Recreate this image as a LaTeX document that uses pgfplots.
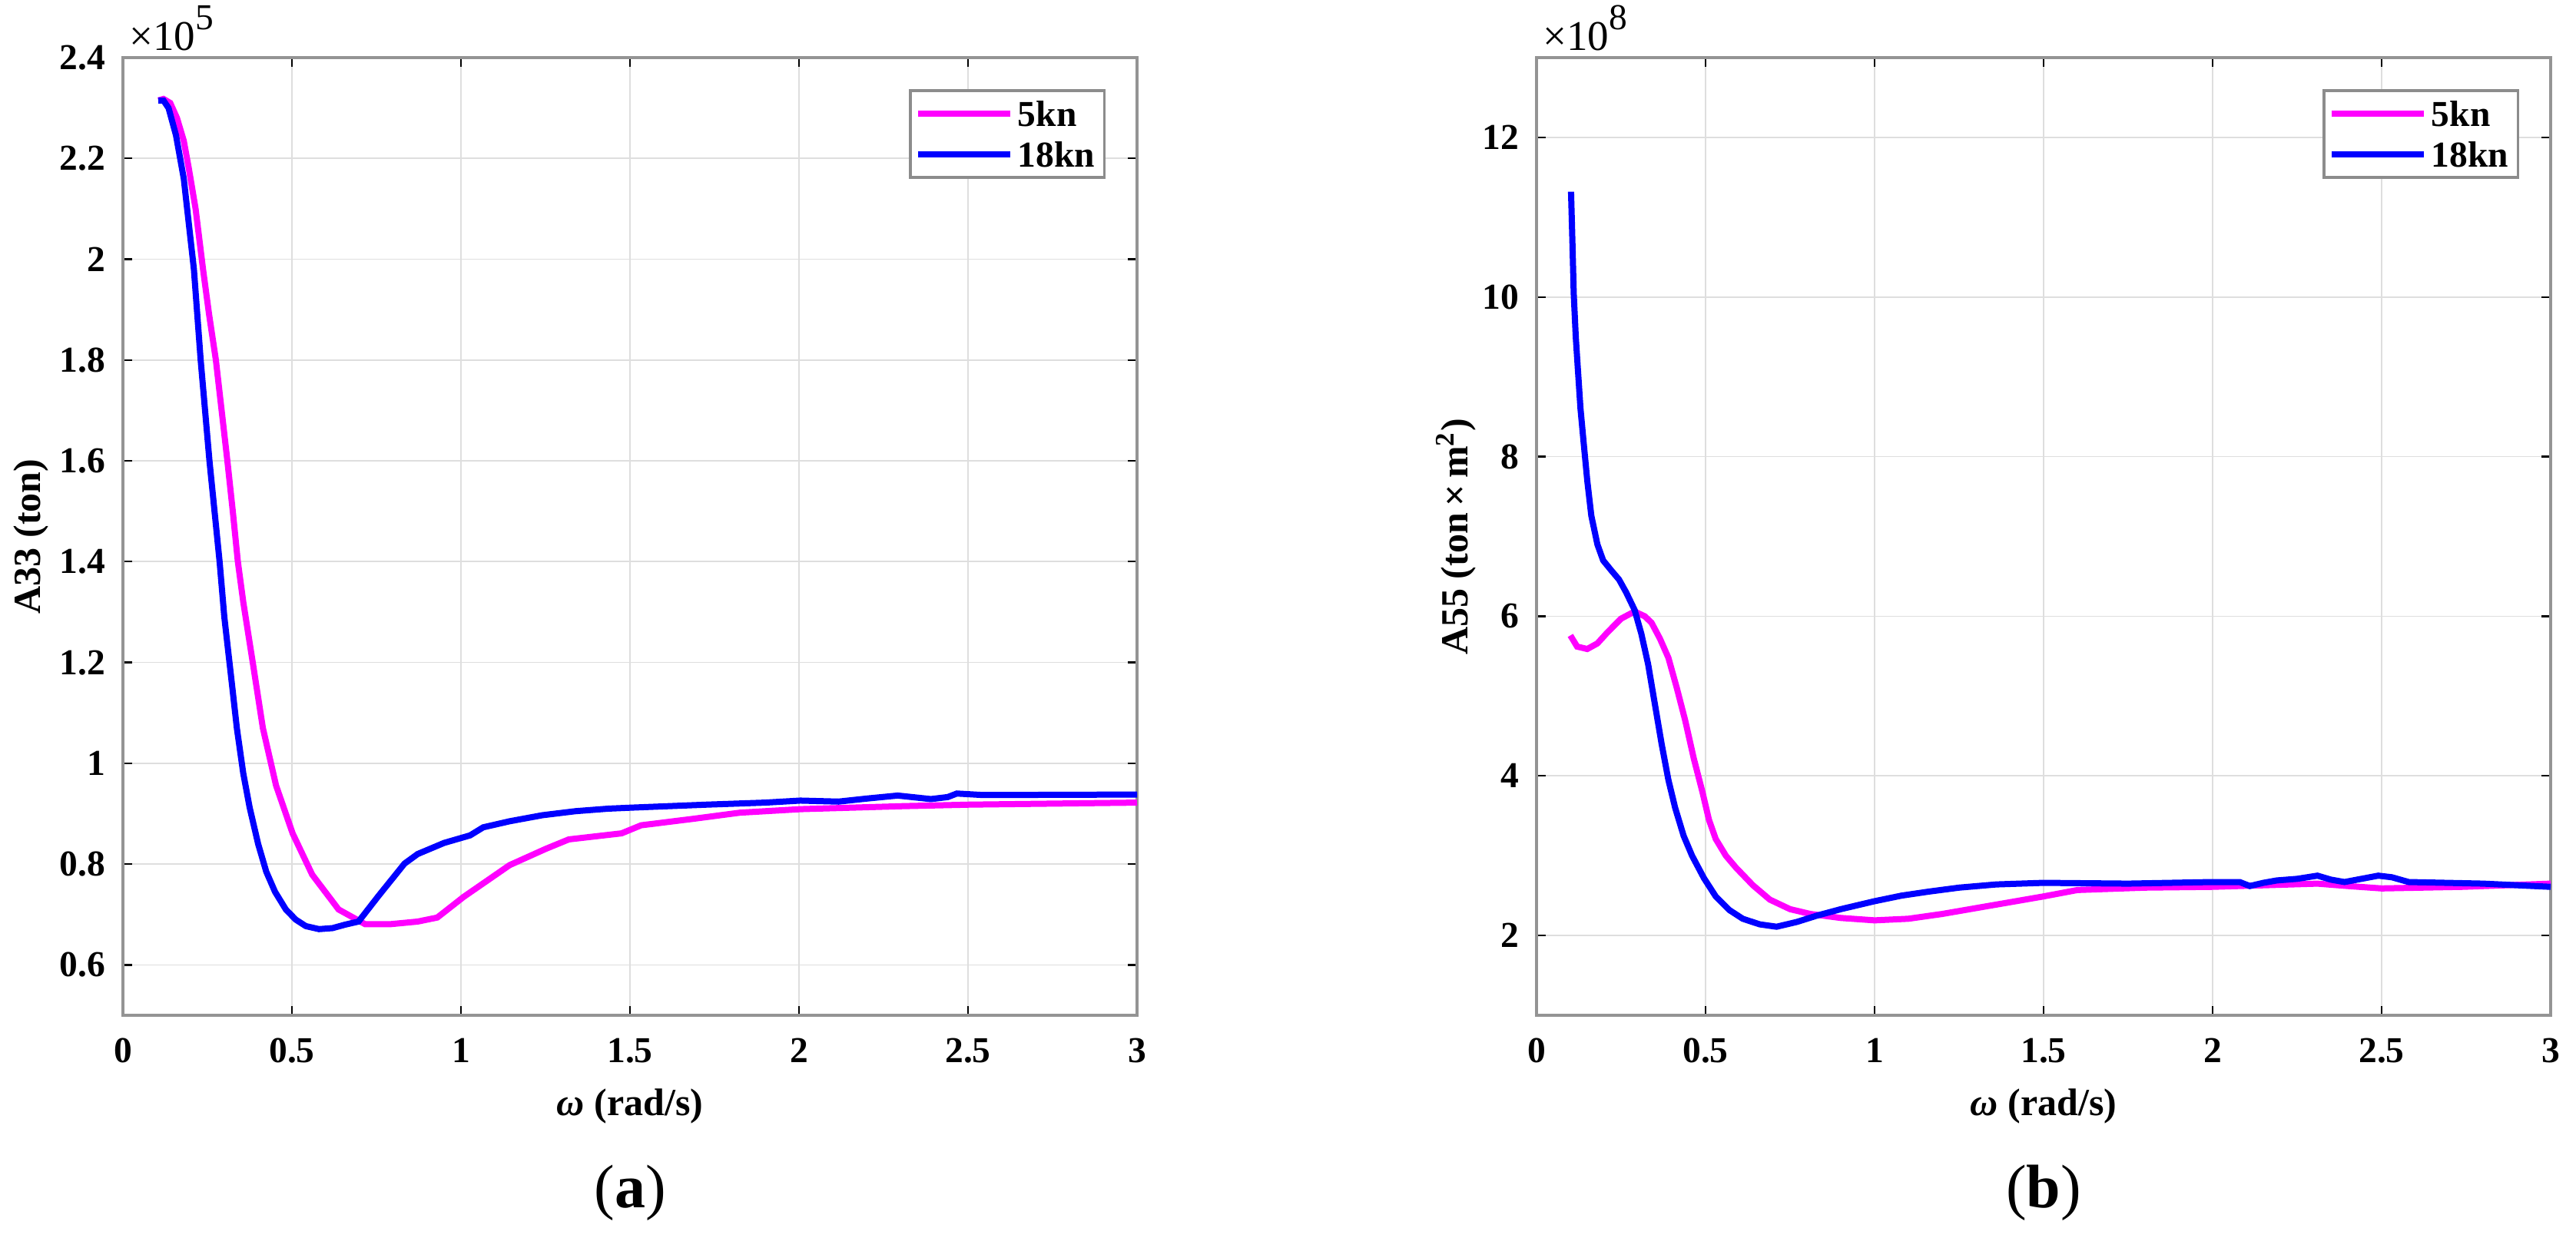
\documentclass[border=0pt]{standalone}
\usepackage{fontspec}
\setmainfont{Liberation Serif}
\usepackage{pgfplots}
\pgfplotsset{compat=1.18}
\definecolor{mag}{RGB}{255,0,255}
\definecolor{blu}{RGB}{0,0,255}
\pgfplotsset{
  myaxis/.style={
    scale only axis, width=264pt, height=249.4pt,
    xmin=0, xmax=3, xtick={0,0.5,1,1.5,2,2.5,3},
    grid=major,
    major grid style={line width=0.35pt, draw=black!13},
    axis line style={draw=black!42, line width=0.7pt},
    tick style={draw=black, line width=0.45pt},
    tick align=inside, major tick length=2.4pt,
    /pgf/number format/assume math mode=true,
    ticklabel style={font=\fontsize{9.5}{11}\selectfont\bfseries},
    xticklabel style={yshift=-2.5pt},
    yticklabel style={xshift=-1pt},
    every axis x label/.style={at={(axis description cs:0.5,-0.0946)}, anchor=center, font=\fontsize{10}{12}\selectfont\bfseries},
    legend style={at={(rel axis cs:1,1)}, anchor=north east, xshift=-8.2pt, yshift=-8.2pt,
      draw=black!45, line width=0.7pt, font=\fontsize{9.5}{10}\selectfont\bfseries,
      inner xsep=1.2pt, inner ysep=0.7pt, row sep=0pt,
      nodes={inner xsep=1.2pt, inner ysep=2pt, text height=6.6pt, text depth=0pt}},
    legend cell align=left,
    legend image code/.code={\draw[##1] (0pt,0pt) -- (24pt,0pt);},
  }
}
\newcommand{\timesten}[1]{{\fontsize{11}{12}\selectfont ×10\raisebox{1.05ex}{\fontsize{9.5}{10}\selectfont #1}}}
\begin{document}
\begin{tikzpicture}
\useasboundingbox (0,0) rectangle (670.6pt,-322.2pt);
% ---------------- (a) ----------------
\begin{axis}[myaxis, name=axA, at={(32pt,-264.4pt)}, anchor=south west,
  ymin=0.5, ymax=2.4, ytick={0.6,0.8,1,1.2,1.4,1.6,1.8,2,2.2,2.4},
  xlabel={\textit{ω} (rad/s)}, ylabel={A33 (ton)},
  every axis y label/.style={at={(axis description cs:-0.0909,0.5)}, rotate=90, anchor=center, font=\fontsize{10}{12}\selectfont\bfseries}]
\addplot[mag, line width=1.6pt] coordinates {
(0.105,2.315)(0.12,2.318)(0.14,2.31)(0.16,2.28)(0.18,2.235)(0.195,2.18)(0.215,2.1)
(0.237,1.98)(0.255,1.89)(0.275,1.8)(0.292,1.7)(0.309,1.6)(0.325,1.5)(0.34,1.4)
(0.356,1.32)(0.385,1.196)(0.414,1.07)(0.453,0.956)(0.502,0.861)(0.56,0.779)
(0.638,0.71)(0.716,0.681)(0.794,0.681)(0.872,0.686)(0.93,0.694)(1.008,0.735)
(1.144,0.798)(1.25,0.83)(1.319,0.849)(1.475,0.861)(1.533,0.877)(1.689,0.89)
(1.825,0.902)(2.004,0.909)(2.31,0.915)(2.506,0.918)(3.0,0.922)};
\addlegendentry{5kn}
\addplot[blu, line width=1.6pt] coordinates {
(0.105,2.315)(0.12,2.315)(0.135,2.30)(0.157,2.246)(0.18,2.16)(0.195,2.07)(0.21,1.98)
(0.23,1.8)(0.256,1.6)(0.286,1.4)(0.30,1.29)(0.322,1.16)(0.337,1.07)(0.356,0.98)
(0.375,0.912)(0.40,0.84)(0.424,0.785)(0.45,0.745)(0.482,0.71)(0.511,0.69)
(0.541,0.677)(0.58,0.671)(0.62,0.673)(0.658,0.68)(0.697,0.686)(0.755,0.736)
(0.833,0.801)(0.872,0.82)(0.95,0.842)(1.027,0.857)(1.066,0.873)(1.144,0.885)
(1.241,0.897)(1.339,0.905)(1.436,0.91)(1.504,0.912)(1.728,0.918)(1.9,0.922)
(2.004,0.926)(2.117,0.924)(2.2,0.93)(2.292,0.936)(2.39,0.929)(2.44,0.933)
(2.467,0.94)(2.545,0.937)(3.0,0.938)};
\addlegendentry{18kn}
\end{axis}
\node[anchor=base west, inner sep=0pt] at ([xshift=1.4pt, yshift=2pt]axA.north west) {\timesten{5}};
% ---------------- (b) ----------------
\begin{axis}[myaxis, name=axB, at={(400pt,-264.4pt)}, anchor=south west,
  ymin=1, ymax=13, ytick={2,4,6,8,10,12},
  xlabel={\textit{ω} (rad/s)}, ylabel={A55 (ton\,×\,m\textsuperscript{2})},
  every axis y label/.style={at={(axis description cs:-0.0795,0.5)}, rotate=90, anchor=center, font=\fontsize{10}{12}\selectfont\bfseries}]
\addplot[mag, line width=1.6pt] coordinates {
(0.1,5.76)(0.12,5.62)(0.15,5.59)(0.18,5.66)(0.21,5.8)(0.25,5.97)(0.29,6.06)
(0.32,6.0)(0.34,5.92)(0.365,5.72)(0.39,5.48)(0.415,5.1)(0.44,4.69)(0.465,4.22)
(0.49,3.81)(0.51,3.45)(0.53,3.21)(0.56,3.0)(0.59,2.85)(0.64,2.63)(0.69,2.45)
(0.75,2.33)(0.81,2.27)(0.9,2.22)(1.0,2.19)(1.1,2.21)(1.2,2.27)(1.35,2.38)
(1.5,2.49)(1.6,2.57)(1.8,2.6)(2.0,2.61)(2.31,2.65)(2.4,2.62)(2.5,2.59)
(2.74,2.61)(3.0,2.65)};
\addlegendentry{5kn}
\addplot[blu, line width=1.6pt] coordinates {
(0.102,11.32)(0.106,10.7)(0.11,10.04)(0.116,9.5)(0.122,9.11)(0.13,8.6)(0.139,8.19)
(0.15,7.7)(0.162,7.26)(0.18,6.9)(0.197,6.70)(0.22,6.58)(0.244,6.46)(0.265,6.3)
(0.29,6.08)(0.31,5.78)(0.33,5.4)(0.35,4.9)(0.37,4.4)(0.39,3.95)(0.41,3.6)
(0.435,3.25)(0.46,3.0)(0.495,2.72)(0.53,2.49)(0.57,2.32)(0.61,2.21)(0.66,2.14)
(0.71,2.11)(0.77,2.17)(0.83,2.25)(0.9,2.33)(1.0,2.43)(1.08,2.5)(1.16,2.55)
(1.25,2.6)(1.36,2.64)(1.5,2.66)(1.75,2.65)(2.0,2.67)(2.08,2.67)(2.11,2.62)
(2.15,2.66)(2.19,2.69)(2.25,2.71)(2.31,2.75)(2.35,2.7)(2.39,2.67)(2.44,2.71)
(2.49,2.75)(2.53,2.73)(2.58,2.67)(2.8,2.65)(3.0,2.61)};
\addlegendentry{18kn}
\end{axis}
\node[anchor=base west, inner sep=0pt] at ([xshift=1.4pt, yshift=2pt]axB.north west) {\timesten{8}};
\node[font=\fontsize{16}{18}\selectfont] at (164pt,-310.6pt) {(\textbf{a})};
\node[font=\fontsize{16}{18}\selectfont] at (532pt,-310.6pt) {(\textbf{b})};
\end{tikzpicture}
\end{document}
